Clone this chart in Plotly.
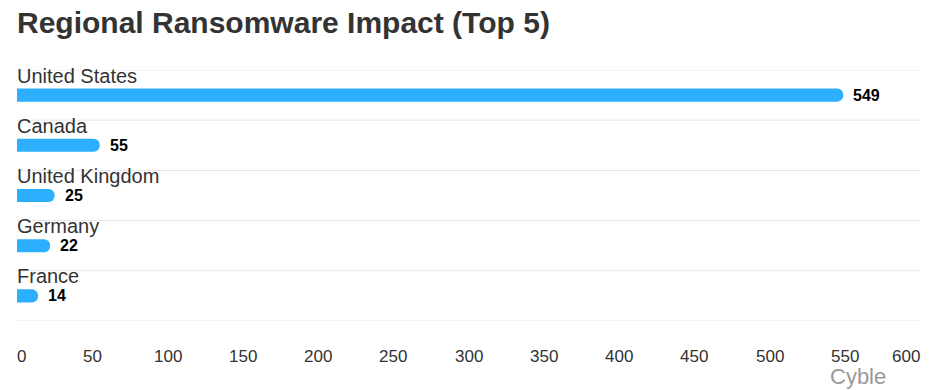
import plotly.graph_objects as go

countries = ["United States", "Canada", "United Kingdom", "Germany", "France"]
values = [549, 55, 25, 22, 14]
x_ticks = [0, 50, 100, 150, 200, 250, 300, 350, 400, 450, 500, 550, 600]

title_text = "Regional Ransomware Impact (Top 5)"
credit_text = "Cyble"

W, H = 936, 390
ML, MR, MT, MB = 17, 16, 70, 69

pos = list(range(len(countries)))
n = len(countries)

fig = go.Figure()
fig.add_trace(go.Bar(
    x=values, y=pos, orientation="h",
    width=0.26,
    marker=dict(color="#2caffe", cornerradius=7, line=dict(width=0)),
    hoverinfo="skip",
))

ann = []
# title
ann.append(dict(text="<b>" + title_text + "</b>", xref="paper", yref="paper",
                x=0, y=1, xanchor="left", yanchor="middle", yshift=MT - 22.5, xshift=-2,
                showarrow=False, font=dict(size=30, color="#333333")))
# category labels
for i, c in enumerate(countries):
    ann.append(dict(text=c, xref="x", yref="y", x=0, y=i - 0.39, xshift=-2,
                    xanchor="left", yanchor="middle", showarrow=False,
                    font=dict(size=20, color="#333333")))
# value labels
for i, v in enumerate(values):
    ann.append(dict(text="<b>" + str(v) + "</b>", xref="x", yref="y", x=v, y=i,
                    xanchor="left", yanchor="middle", xshift=8, showarrow=False,
                    font=dict(size=16, color="#000000")))
# x tick labels
for k, t in enumerate(x_ticks):
    anchor = "left" if k == 0 else ("right" if k == len(x_ticks) - 1 else "center")
    sh = -2 if k == 0 else (2 if k == len(x_ticks) - 1 else 0)
    ann.append(dict(text=str(t), xref="x", yref="paper", x=t, y=0, xshift=sh,
                    xanchor=anchor, yanchor="middle", yshift=-(356 - (H - MB)),
                    showarrow=False, font=dict(size=17, color="#333333")))
# credit
ann.append(dict(text=credit_text, xref="paper", yref="paper", x=1, y=0,
                xanchor="right", yanchor="middle", xshift=-32, yshift=-(376 - (H - MB)),
                showarrow=False, font=dict(size=22, color="#999999")))

# category boundary grid lines
grid_pos = [p - 0.5 for p in pos] + [n - 0.5]
shapes = [dict(type="line", xref="paper", yref="y", x0=0, x1=1, y0=g, y1=g,
               line=dict(color="#e6e6e6", width=1), layer="below") for g in grid_pos]

fig.update_layout(
    width=W, height=H,
    margin=dict(l=ML, r=MR, t=MT, b=MB, pad=0),
    paper_bgcolor="white", plot_bgcolor="white",
    font=dict(family="Liberation Sans, Arial, sans-serif", color="#333333"),
    showlegend=False,
    annotations=ann,
    shapes=shapes,
    xaxis=dict(range=[0, 600], showgrid=False, zeroline=False, showticklabels=False,
               showline=False, fixedrange=True),
    yaxis=dict(range=[n - 0.5, -0.5], showgrid=False, zeroline=False,
               showticklabels=False, showline=False, fixedrange=True),
)

fig.write_html("out.html", config={"displayModeBar": False},
               post_script="document.body.style.margin='0';document.body.style.overflow='hidden';")
